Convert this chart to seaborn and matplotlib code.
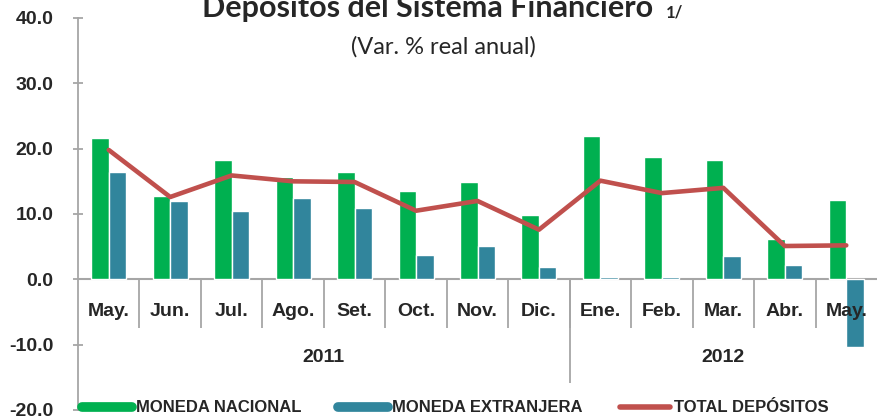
import numpy as np
import pandas as pd
import seaborn as sns
import matplotlib.pyplot as plt
from matplotlib.lines import Line2D

# Data :-
months = ["May.", "Jun.", "Jul.", "Ago.", "Set.", "Oct.", "Nov.", "Dic.",
          "Ene.", "Feb.", "Mar.", "Abr.", "May."]
years = ["2011", "2012"]
year_span = [8, 5]  # number of months in each year group
moneda_nacional = [21.6, 12.7, 18.3, 15.6, 16.4, 13.5, 14.9, 9.8, 22.0, 18.8, 18.3, 6.2, 12.2]
moneda_extranjera = [16.5, 12.0, 10.4, 12.5, 10.9, 3.8, 5.1, 1.9, 0.3, 0.3, 3.6, 2.2, -10.3]
total_depositos = [19.8, 12.6, 15.9, 15.0, 14.9, 10.5, 12.0, 7.6, 15.1, 13.2, 14.0, 5.1, 5.2]
series_names = ["MONEDA NACIONAL", "MONEDA EXTRANJERA", "TOTAL DEPÓSITOS"]
y_ticks = [-20, -10, 0, 10, 20, 30, 40]

green = "#00B050"
blue = "#31859C"
red = "#C0504D"
gray = "#A6A6A6"

sns.set_theme(style="white")
plt.rcParams['font.family'] = ['Liberation Sans', 'DejaVu Sans']

pos = np.arange(len(months))
df = pd.DataFrame({
    "pos": np.concatenate([pos, pos]),
    "valor": moneda_nacional + moneda_extranjera,
    "serie": [series_names[0]] * len(pos) + [series_names[1]] * len(pos),
})

fig = plt.figure(figsize=(8.77, 4.17), dpi=100)
ax = fig.add_axes([78 / 877, 1 - 410 / 417, 1 - 78 / 877, 392 / 417])

ax.axhline(0, color=gray, lw=1.5, zorder=0)
sns.barplot(data=df, x="pos", y="valor", hue="serie", palette=[green, blue],
            width=0.57, saturation=1, errorbar=None, legend=False, ax=ax, zorder=2)
sns.lineplot(x=pos, y=total_depositos, color=red, lw=3.3, ax=ax, zorder=3)

ax.set_xlim(-0.5, len(months) - 0.5)
ax.set_ylim(-20, 40)
ax.set_yticks(y_ticks)
ax.set_yticklabels([f"{v:.1f}" for v in y_ticks], fontsize=14, fontweight="bold")
ax.set_xticks([])
ax.set_xlabel("")
ax.set_ylabel("")
for s in ["top", "right", "bottom"]:
    ax.spines[s].set_visible(False)
ax.spines["left"].set_color(gray)
ax.spines["left"].set_linewidth(1.3)
ax.tick_params(axis="y", left=True, direction="inout", length=7.5, width=1.3, color=gray, pad=14)

# category labels and separators inside the plot
for i, m in enumerate(months):
    ax.text(i, -4.9, m, ha="center", va="center", fontsize=14, fontweight="bold")
sep_x = [i + 0.5 for i in range(len(months) - 1)]
ax.vlines(sep_x, -7.4, 0, color=gray, lw=1.3, zorder=1)
start = 0
for yr, n in zip(years, year_span):
    ax.text(start + (n - 1) / 2, -11.9, yr, ha="center", va="center", fontsize=14, fontweight="bold")
    if start + n < len(months):
        ax.vlines(start + n - 0.5, -15.8, 0, color=gray, lw=1.3, zorder=1)
    start += n

# titles
t = fig.text(428 / 877, 1 - 17 / 417, "Depósitos del Sistema Financiero", ha="center",
             va="baseline", fontsize=22, fontweight="bold", family="Lato")
fig.text(443 / 877, 1 - 54 / 417, "(Var. % real anual)", ha="center", va="baseline",
         fontsize=17, family="Lato")
ax.annotate("1/", xy=(1, 0), xycoords=t, xytext=(9, 1), textcoords="offset points",
            ha="left", va="bottom", fontsize=12, fontweight="bold", family="Lato",
            annotation_clip=False)

# legend
handles = [Line2D([], [], color=green, lw=7),
           Line2D([], [], color=blue, lw=7),
           Line2D([], [], color=red, lw=4)]
fig.legend(handles, series_names, loc="center left", bbox_to_anchor=(82 / 877, 9 / 417),
           ncol=3, frameon=False, borderaxespad=0, borderpad=0, handlelength=3.0,
           handletextpad=0.25, columnspacing=2.2,
           prop={"weight": "bold", "size": 12})

fig.savefig("out.png", dpi=100)
